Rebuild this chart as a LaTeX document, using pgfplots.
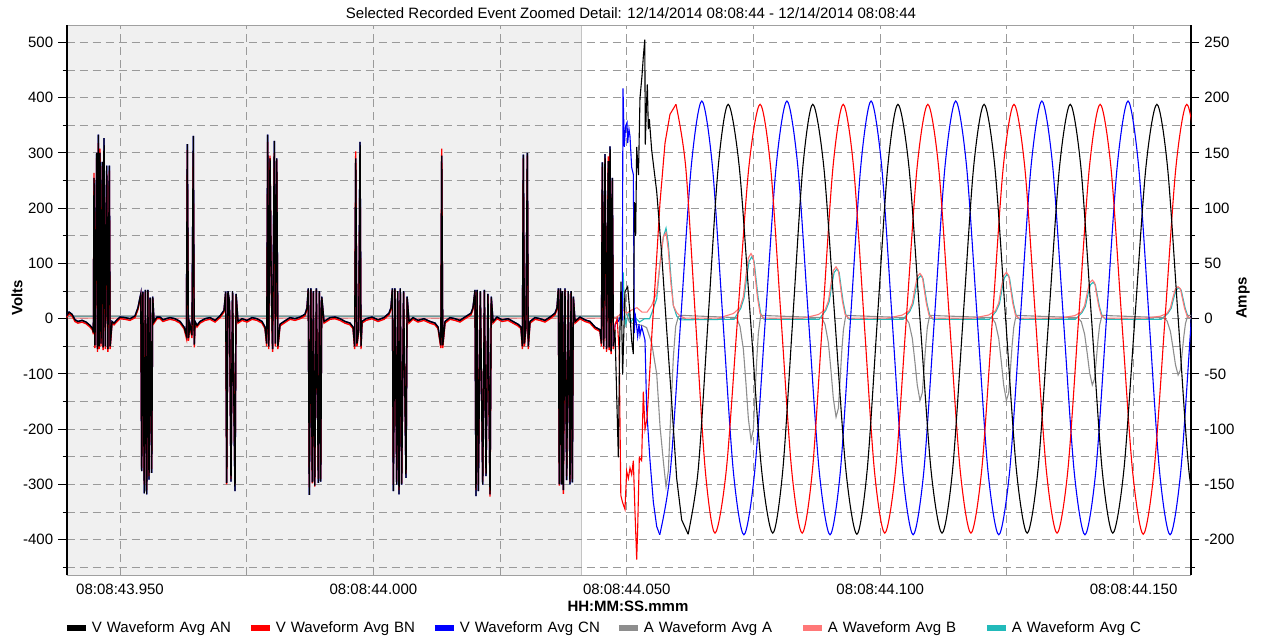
\documentclass[border=0pt]{standalone}
\usepackage{fontspec}
\setmainfont{Liberation Sans}
\usepackage{pgfplots}
\usepackage{pgfplotstable}
\pgfplotsset{compat=1.18}
\definecolor{cA}{HTML}{8E8E8E}
\definecolor{cB}{HTML}{FF7878}
\definecolor{cC}{HTML}{22BABA}
\definecolor{gridc}{HTML}{9A9A9A}
\definecolor{shadebg}{HTML}{F0F0F0}
\definecolor{edgec}{HTML}{C4C4C4}
\definecolor{framec}{HTML}{A0A0A0}
\newcommand{\fs}{\fontsize{7.5}{9}\selectfont}

% ---------- voltages before the event (a = AN, b = BN) ----------
\pgfplotstableread{
t a b
-10.56 5 2
-10.06 12 9
-9.47 8 5
-8.88 -2 -5
-8.29 -5 -8
-7.50 -3 -6
-6.71 -6 -9
-5.92 -12 -15
-5.40 -18 -21
-5.25 -25 -28
-5.13 255 264
-4.95 -48 -53
-4.60 300 292
-4.45 -55 -60
-4.28 333 318
-4.12 -50 -55
-3.95 300 308
-3.75 -45 -50
-3.49 284 276
-3.33 -52 -57
-3.16 327 300
-2.90 -50 -55
-2.62 277 262
-2.40 -55 -60
-2.11 277 268
-1.95 -50 -55
-1.58 -5 -8
-1.18 -8 -11
-0.59 -2 -5
0.00 3 0
0.99 2 -1
1.97 0 -3
2.96 5 2
3.55 20 17
4.10 45 42
4.28 -276 -270
4.50 49 46
4.79 -316 -300
5.00 52 49
5.27 -318 -310
5.50 52 49
5.72 -291 -285
5.95 38 35
6.25 -279 -272
6.45 40 37
6.71 -5 -8
7.30 3 0
7.89 3 0
8.48 -2 -5
9.08 0 -3
9.87 2 -1
10.85 0 -3
11.84 -5 -8
12.63 -15 -18
13.10 -30 -35
13.28 316 305
13.50 -35 -40
13.80 -10 -13
14.20 -30 -35
14.46 331 300
14.65 -47 -52
14.80 -5 -8
15.19 -12 -15
15.79 -5 -8
16.77 0 -3
17.76 2 -1
18.75 -3 -6
19.73 5 2
20.52 15 12
20.85 49 46
21.05 -297 -300
21.30 50 47
21.60 30 27
21.90 -295 -290
22.20 50 47
22.69 -312 -300
22.90 45 42
23.28 -5 -8
24.07 0 -3
25.06 -3 -6
26.05 2 -1
27.03 0 -3
28.02 -5 -8
28.61 -15 -18
28.95 -45 -50
29.14 333 320
29.35 -50 -55
29.60 290 295
29.85 60 57
30.10 -55 -60
30.45 322 300
30.65 -45 -50
30.92 290 288
31.15 -50 -55
31.57 -10 -13
32.36 -5 -8
33.54 2 -1
34.53 0 -3
35.52 3 0
36.50 8 5
36.90 20 17
37.15 55 52
37.35 -319 -305
37.65 55 52
37.94 -296 -298
38.15 50 47
38.42 -302 -304
38.75 55 52
39.13 -297 -290
39.35 50 47
39.60 -295 -290
39.80 40 37
40.25 -5 -8
41.44 2 -1
42.42 3 0
43.41 0 -3
44.40 -5 -8
45.38 -8 -11
45.98 -15 -18
46.30 -50 -55
46.51 290 303
46.75 -45 -50
47.10 -20 -23
47.36 320 300
47.55 -50 -55
47.75 -5 -8
48.54 0 -3
49.72 3 0
50.91 -2 -5
52.09 2 -1
53.08 10 7
53.47 20 17
53.75 55 52
53.93 -312 -300
54.25 55 52
54.60 -300 -295
54.80 50 47
55.05 -318 -310
55.30 55 52
55.58 -300 -298
55.95 50 47
56.43 -288 -280
56.65 40 37
57.02 -5 -8
57.81 2 -1
58.80 -3 -6
59.98 0 -3
61.17 -5 -8
62.15 -8 -11
62.75 -15 -18
63.30 -48 -53
63.48 295 308
63.68 -48 -53
64.13 -5 -8
65.11 2 -1
66.10 0 -3
67.09 -3 -6
68.07 3 0
69.26 10 7
69.65 20 17
70.05 52 49
70.24 -321 -310
70.45 52 49
70.70 -312 -300
71.10 50 47
71.57 -300 -295
71.90 52 49
72.22 -285 -280
72.60 45 42
73.01 -318 -322
73.25 40 37
73.60 -5 -8
74.39 3 0
75.37 -2 -5
76.56 0 -3
77.55 -5 -8
78.53 -10 -13
79.12 -15 -18
79.40 -50 -55
79.58 297 290
79.80 -45 -50
80.10 -15 -18
80.37 300 295
80.55 -50 -55
80.90 -5 -8
81.89 2 -1
82.87 0 -3
83.86 -3 -6
84.85 3 0
85.83 10 7
86.23 20 17
86.50 55 52
86.68 -300 -302
86.92 55 52
87.15 -300 -295
87.30 50 47
87.47 -310 -317
87.80 55 52
88.14 -292 -285
88.45 50 47
88.79 -300 -295
89.00 50 47
89.25 -296 -290
89.45 40 37
89.78 -5 -8
90.77 3 0
91.75 -2 -5
92.74 -5 -8
93.72 -15 -18
94.32 -18 -21
94.71 -20 -23
95.00 -45 -50
95.17 283 275
95.45 -50 -55
95.70 298 290
96.00 -55 -60
96.35 285 294
96.50 -52 -57
96.69 312 300
96.90 -59 -64
97.14 255 250
97.35 -50 -55
}\pre

% ---------- V AN ----------
\pgfplotstableread{
t v
97.35 -50
97.67 -20
97.95 -120
98.33 -251
98.60 -40
98.86 67
99.18 -101
99.64 49
100.17 58
100.56 17
100.96 -40
101.29 -64
101.50 211
101.75 150
101.95 311
102.30 260
102.60 399
103.00 440
103.26 474
103.55 505
103.65 315
103.85 380
104.05 424
104.25 343
104.45 361
104.91 305
105.90 230
106.88 117
107.87 -20
108.72 -132
109.84 -289
110.83 -364
112.10 -390
}\anT
\pgfplotstableread{
t v
112.10 -390
114.08 -274
116.05 0
118.03 274
120.00 388
122.20 274
124.40 0
126.60 -274
128.80 -388
130.78 -274
132.75 0
134.73 274
136.70 388
138.88 274
141.05 0
143.23 -274
145.40 -390
147.43 -274
149.45 0
151.48 274
153.50 388
155.68 274
157.85 0
160.03 -274
162.20 -388
164.28 -274
166.35 0
168.43 274
170.50 388
172.63 274
174.75 0
176.88 -274
179.00 -388
181.13 -274
183.25 0
185.38 274
187.50 388
189.60 274
191.70 0
193.80 -274
195.90 -388
198.08 -274
200.25 0
202.43 274
204.60 388
206.70 274
208.80 0
210.90 -274
213.00 -388
}\anS

% ---------- V BN ----------
\pgfplotstableread{
t v
97.35 -55
97.70 -10
98.10 0
98.50 -60
98.82 -320
99.15 -332
99.64 -345
99.97 -276
100.30 -289
100.63 -270
100.96 -282
101.29 -257
101.62 -351
101.82 -401
101.95 -436
102.14 -382
102.47 -251
102.93 -257
103.26 -132
103.59 -200
104.00 -180
104.50 -100
105.00 -20
105.56 60
106.55 210
107.54 318
108.52 370
109.70 388
}\bnT
\pgfplotstableread{
t v
109.70 388
111.63 274
113.55 0
115.48 -274
117.40 -388
119.63 -274
121.85 0
124.08 274
126.30 388
128.38 274
130.45 0
132.53 -274
134.60 -388
136.63 -274
138.65 0
140.68 274
142.70 388
144.75 274
146.80 0
148.85 -274
150.90 -388
153.03 -274
155.15 0
157.28 274
159.40 388
161.53 274
163.65 0
165.78 -274
167.90 -388
170.03 -274
172.15 0
174.28 274
176.40 388
178.53 274
180.65 0
182.78 -274
184.90 -388
187.03 -274
189.15 0
191.28 274
193.40 388
195.53 274
197.65 0
199.78 -274
201.90 -390
204.05 -274
206.20 0
208.35 274
210.50 388
212.60 274
214.70 0
}\bnS

% ---------- V CN ----------
\pgfplotstableread{
t v
97.35 -50
97.70 -10
98.30 -5
98.80 5
99.10 0
99.25 417
99.51 311
99.77 349
100.04 355
100.17 318
100.43 343
100.63 330
100.96 274
101.29 261
101.49 -26
101.62 11
101.95 -14
102.14 -32
102.41 -10
102.60 -30
102.93 -15
103.26 -26
103.59 -39
103.92 -164
104.58 -257
105.24 -332
105.90 -376
106.50 -391
}\cnT
\pgfplotstableread{
t v
106.50 -391
108.58 -277
110.65 0
112.73 277
114.80 394
116.88 277
118.95 0
121.03 -277
123.10 -391
125.23 -277
127.35 0
129.48 277
131.60 394
133.73 277
135.85 0
137.98 -277
140.10 -391
142.13 -277
144.15 0
146.18 277
148.20 394
150.28 277
152.35 0
154.43 -277
156.50 -391
158.60 -277
160.70 0
162.80 277
164.90 394
167.03 277
169.15 0
171.28 -277
173.40 -391
175.53 -277
177.65 0
179.78 277
181.90 394
184.03 277
186.15 0
188.28 -277
190.40 -391
192.53 -277
194.65 0
196.78 277
198.90 394
200.98 277
203.05 0
205.13 -277
207.20 -391
209.30 -277
211.40 0
213.50 277
}\cnS

% ---------- currents ----------
\pgfplotstableread{
t i
-10.56 2.5
96.00 2.5
98.80 0
99.30 10
99.60 22
99.90 5
100.50 -3
101.50 -5
103.00 -6
103.90 -8
104.91 -22
105.90 -50
106.55 -97
107.21 -129
107.74 -152
108.19 -138
108.72 -82
109.18 -35
109.64 -7
110.17 2
111.00 3
121.68 1
122.34 -7
123.00 -27.5
123.52 -59
123.98 -90
124.51 -110
124.97 -100
125.30 -69
125.63 -38
125.96 -13
126.42 3
138.46 1
139.12 -5.3
139.78 -21.8
140.30 -47.6
140.76 -72.5
141.29 -89
141.75 -81
142.08 -56
142.41 -30
142.74 -10
143.20 3
155.02 1
155.68 -4
156.34 -17.8
156.86 -39.4
157.32 -60.2
157.85 -74
158.31 -67
158.64 -46.3
158.97 -24.7
159.30 -7.8
159.76 3
172.07 1
172.73 -4
173.39 -17.8
173.91 -39.4
174.37 -60.2
174.90 -74
175.36 -67
175.69 -46.3
176.02 -24.7
176.35 -7.8
176.81 3
189.02 1
189.68 -2.7
190.34 -14
190.86 -31.7
191.32 -48.7
191.85 -60
192.31 -54.3
192.64 -37.3
192.97 -19.7
193.30 -5.8
193.76 3
205.95 1
206.61 -2
207.27 -11.6
207.79 -26.7
208.25 -41.3
208.78 -51
209.24 -46.2
209.57 -31.6
209.90 -16.4
210.23 -4.5
210.69 3
211.33 3
}\curA
\pgfplotstableread{
t i
-10.56 0.5
96.00 0.5
97.50 0.5
98.50 3
99.30 8
100.00 5
101.00 8
102.00 10
103.00 6
104.00 6
104.91 12
105.90 24
106.55 49.5
107.21 74
107.74 78
108.19 62
108.72 31
109.18 12
109.84 5.6
110.50 2.5
111.50 0.5
118.01 0.5
121.02 4.7
122.34 10
123.00 20
123.52 40
123.98 55
124.51 59
124.97 55
125.30 40
125.76 20
126.29 4.7
126.94 0.5
134.79 0.5
137.80 3.8
139.12 8
139.78 16
140.30 32
140.76 43.7
141.29 47
141.75 43.7
142.08 32
142.54 16
143.07 3.8
143.72 0.5
151.35 0.5
154.36 3.3
155.68 7
156.34 14
156.86 27.9
157.32 38.1
157.85 41
158.31 38.1
158.64 27.9
159.10 14
159.63 3.3
160.28 0.5
168.40 0.5
171.41 3.4
172.73 7.1
173.39 14.3
173.91 28.6
174.37 39
174.90 42
175.36 39
175.69 28.6
176.15 14.3
176.68 3.4
177.33 0.5
185.35 0.5
188.36 2.8
189.68 6
190.34 11.9
190.86 23.8
191.32 32.6
191.85 35
192.31 32.6
192.64 23.8
193.10 11.9
193.63 2.8
194.28 0.5
202.28 0.5
205.29 2.3
206.61 4.9
207.27 9.9
207.79 19.7
208.25 27
208.78 29
209.24 27
209.57 19.7
210.03 9.9
210.56 2.3
211.21 0.5
211.33 0.5
}\curB
\pgfplotstableread{
t i
-10.56 2
97.00 2
98.80 0
99.10 20
99.30 42
99.50 10
99.80 -5
100.30 5
100.80 -3
101.50 2
102.50 -3
103.50 0
104.50 0
104.91 5
105.90 18
106.55 50
107.21 74
107.74 82
108.19 68
108.72 37
109.18 12
109.84 2.5
110.50 -1
121.17 -0.5
122.49 9.5
123.15 19
123.67 38
124.13 52
124.66 56
125.12 52
125.45 38
125.91 19
126.44 4.5
127.09 -0.5
137.95 -0.5
139.27 7.7
139.93 15.3
140.45 30.6
140.91 41.9
141.44 45
141.90 41.9
142.23 30.6
142.69 15.3
143.22 3.6
143.87 -0.5
154.51 -0.5
155.83 6.6
156.49 13.3
157.01 26.5
157.47 36.3
158.00 39
158.46 36.3
158.79 26.5
159.25 13.3
159.78 3.1
160.43 -0.5
171.56 -0.5
172.88 6.8
173.54 13.6
174.06 27.2
174.52 37.2
175.05 40
175.51 37.2
175.84 27.2
176.30 13.6
176.83 3.2
177.48 -0.5
188.51 -0.5
189.83 5.6
190.49 11.2
191.01 22.4
191.47 30.7
192.00 33
192.46 30.7
192.79 22.4
193.25 11.2
193.78 2.6
194.43 -0.5
205.44 -0.5
206.76 4.8
207.42 9.5
207.94 19
208.40 26
208.93 28
209.39 26
209.72 19
210.18 9.5
210.71 2.2
211.33 -0.5
}\curC

\begin{document}
\begin{tikzpicture}
\fs
\pgfplotsset{
  common/.style={
    at={(33.25pt,34pt)}, anchor=south west,
    scale only axis, width=562.25pt, height=275pt,
    xmin=-10.56, xmax=211.33,
    tick align=outside, major tick length=4pt, minor tick length=2pt,
    tick label style={font=\fs},
    /pgf/number format/assume math mode=true,
  },
  trace/.style={line width=0.55pt, forget plot},
}
% ---------------- current axis (right) ----------------
\begin{axis}[common,
  set layers,
  ymin=-231.9, ymax=265.8,
  separate axis lines,
  x axis line style={framec, line width=0.5pt},
  y axis line style={black, line width=1pt},
  ytick pos=right, yticklabel pos=right,
  ytick={-200,-150,...,250},
  minor ytick={-225,-175,...,225},
  xtick={0,50,100,150,200},
  minor xtick={25,75,125,175},
  xticklabels={08:08:43.950,08:08:44.000,08:08:44.050,08:08:44.100,08:08:44.150},
  xticklabel style={yshift=2pt},
  x tick style={draw=none}, minor x tick style={draw=none},
  y tick style={black, line width=0.5pt},
  minor y tick style={black, line width=0.5pt},
  grid=both,
  major grid style={gridc, line width=0.5pt, dash pattern=on 4pt off 2.5pt},
  minor grid style={gridc, line width=0.5pt, dash pattern=on 4pt off 2.5pt},
  title={Selected Recorded Event Zoomed Detail: 12/14/2014 08:08:44 - 12/14/2014 08:08:44},
  every axis title/.style={at={(axis description cs:0.502,1.0218)}, anchor=center, font=\fs},
  xlabel={HH:MM:SS.mmm},
  every axis x label/.style={at={(axis description cs:0.4993,-0.0564)}, anchor=center, font=\fs\bfseries},
  ylabel={Amps},
  every axis y label/.style={at={(axis description cs:1.0462,0.5036)}, anchor=center, rotate=90, font=\fs\bfseries},
]
\begin{pgfonlayer}{axis background}
\fill[fill=shadebg] (axis cs:-10.56,-231.9) rectangle (axis cs:91.0,265.8);
\draw[edgec, line width=0.5pt] (axis cs:91.0,-231.9) -- (axis cs:91.0,265.8);
\end{pgfonlayer}
\addplot[trace, cC] table[x=t, y=i] {\curC};
\addplot[trace, cA] table[x=t, y=i] {\curA};
\addplot[trace, cB] table[x=t, y=i] {\curB};
\end{axis}
% ---------------- voltage axis (left) ----------------
\begin{axis}[common,
  ymin=-463.8, ymax=531.6,
  axis x line=none, axis y line*=left,
  y axis line style={black, line width=1pt},
  ytick={-400,-300,...,500},
  minor ytick={-450,-350,...,450},
  y tick style={black, line width=0.5pt},
  minor y tick style={black, line width=0.5pt},
  ylabel={Volts},
  every axis y label/.style={at={(axis description cs:-0.044,0.5036)}, anchor=center, rotate=90, font=\fs\bfseries},
  legend columns=6,
  legend style={at={(axis description cs:-0.0027,-0.0964)}, anchor=west, draw=none, fill=none,
    inner sep=0pt, font=\fs,
    /tikz/every odd column/.append style={column sep=1.5pt},
    nodes={inner xsep=0pt, text width=78pt, align=left}},
  legend image code/.code={\draw[#1, line width=3pt] (0pt,0pt) -- (9.5pt,0pt);},
]
\addlegendimage{black}
\addlegendimage{red}
\addlegendimage{blue}
\addlegendimage{cA}
\addlegendimage{cB}
\addlegendimage{cC}
\legend{V Waveform Avg AN, V Waveform Avg BN, V Waveform Avg CN, A Waveform Avg A, A Waveform Avg B, A Waveform Avg C}
\addplot[trace, blue, line width=0.7pt] table[x=t, y=a] {\pre};
\addplot[trace, red, line width=0.7pt] table[x=t, y=b] {\pre};
\addplot[trace, black, line width=0.7pt] table[x=t, y=a] {\pre};
\addplot[trace, blue] table[x=t, y=v] {\cnT};
\addplot[trace, blue, smooth] table[x=t, y=v] {\cnS};
\addplot[trace, red] table[x=t, y=v] {\bnT};
\addplot[trace, red, smooth] table[x=t, y=v] {\bnS};
\addplot[trace, black] table[x=t, y=v] {\anT};
\addplot[trace, black, smooth] table[x=t, y=v] {\anS};
\end{axis}
\pgfresetboundingbox
\useasboundingbox (0,0) rectangle (631pt,321.5pt);
\end{tikzpicture}
\end{document}
